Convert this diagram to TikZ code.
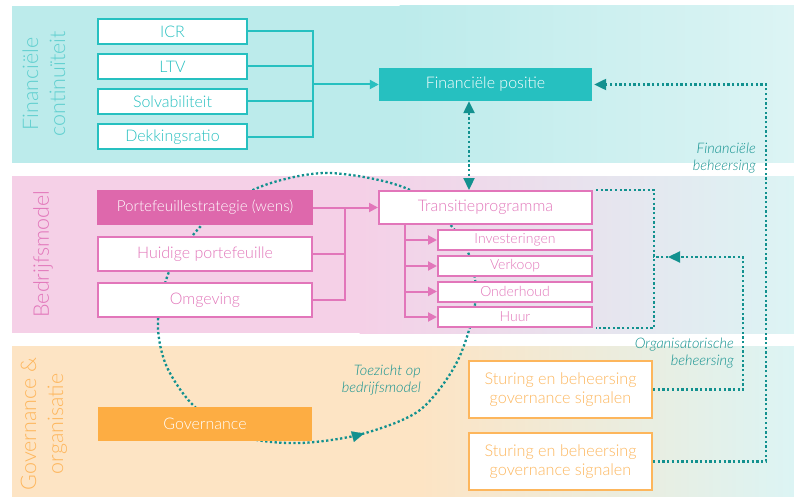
\documentclass[tikz,border=0pt]{standalone}
\usepackage{fontspec}
\setmainfont{Lato}[UprightFont=* Light,ItalicFont=* Light Italic]
\usetikzlibrary{arrows.meta}
\definecolor{finteal}{RGB}{38,192,192}
\definecolor{finband}{RGB}{188,235,235}
\definecolor{finlabel}{RGB}{95,207,207}
\definecolor{bmpink}{RGB}{222,104,172}
\definecolor{bmtext}{RGB}{226,118,186}
\definecolor{bmband}{RGB}{245,208,231}
\definecolor{govorange}{RGB}{253,173,67}
\definecolor{govtext}{RGB}{253,182,92}
\definecolor{govband}{RGB}{253,228,196}
\definecolor{lightend}{RGB}{220,244,244}
\definecolor{ctrlteal}{RGB}{18,145,143}

\begin{document}
\begin{tikzpicture}[x=1pt,y=-1pt,
    txt/.style={font=\fontsize{16}{19}\selectfont},
    finbox/.style={txt,draw=finteal,line width=2pt,fill=white,text=finteal,
      minimum width=149pt,minimum height=25pt,inner sep=0pt},
    bmbox/.style={txt,draw=bmtext,line width=2pt,fill=white,text=bmtext,
      minimum width=214pt,minimum height=34pt,inner sep=0pt},
    subbox/.style={draw=bmtext,line width=2pt,fill=white,text=bmtext,
      font=\fontsize{14}{16}\selectfont,minimum width=154pt,minimum height=20pt,inner sep=0pt},
    govbox/.style={draw=govtext,line width=2pt,fill=white,text=govtext,align=center,
      font=\fontsize{16.2}{19}\selectfont,minimum width=183pt,minimum height=57pt,inner sep=0pt},
    bandlabel/.style={rotate=90,align=center,font=\fontsize{21.5}{27}\selectfont},
    ctrllabel/.style={align=right,text=ctrlteal,inner sep=0pt,
      font=\fontsize{14.5}{16.5}\selectfont\itshape},
    dotline/.style={draw=ctrlteal,line width=2.3pt,dash pattern=on 2.3pt off 2.4pt},
    bigtip/.style={-{Triangle[length=12pt,width=11pt]}},
    smalltip/.style={-{Triangle[length=9pt,width=9pt]}}]
    \useasboundingbox (0,0) rectangle (794,497);
    % bands
    \fill[finband] (12,6) rectangle (400,163);
    \shade[left color=finband,right color=lightend] (399.5,6) rectangle (794,163);
    \fill[bmband] (12,176) rectangle (360,333);
    \shade[left color=bmband,right color=lightend] (359.5,176) rectangle (794,333);
    \fill[govband] (12,346) rectangle (420,497);
    \shade[left color=govband,right color=lightend] (419.5,346) rectangle (794,497);
    \node[bandlabel,text=finlabel] (lblfin) at (44,84) {Financiële\\continuïteit};
    \node[bandlabel,text=bmtext] (lblbm) at (43,254) {Bedrijfsmodel};
    \node[bandlabel,text=govtext] (lblgov) at (44,424) {Governance \&\\organisatie};
    % loop behind the boxes
    \draw[dotline] plot[smooth cycle] coordinates {(300,443) (362,434) (420,410) (458,360)
      (476,295) (462,240) (410,190) (330,173) (265,185) (212,215) (172,265) (158,320)
      (166,365) (195,407) (245,437)};
    \coordinate (looptail) at (352,436.8);
    \coordinate (loophead) at (364,433.4);
    \draw[ctrlteal,line width=0.1pt,bigtip] (looptail) -- (loophead);
    % financiele continuiteit
    \node[finbox] (icr) at (172.5,31.5) {ICR};
    \node[finbox] (ltv) at (172.5,66.5) {LTV};
    \node[finbox] (solv) at (172.5,101.5) {Solvabiliteit};
    \node[finbox] (dekking) at (172.5,137) {Dekkingsratio};
    \node[txt,fill=finteal,text=white,minimum width=213pt,minimum height=33pt,inner sep=0pt]
      (finpos) at (485.5,84.5) {Financiële positie};
    \coordinate (finbus) at (313,84.5);
    \foreach \k in {icr,ltv,solv,dekking}
      \draw[finteal,line width=2pt] (\k.east) -| (finbus);
    \draw[finteal,line width=2pt,smalltip] (finbus) -- (finpos.west);
    % bedrijfsmodel
    \node[bmbox,fill=bmpink,draw=bmpink,text=white,minimum height=33pt,
      font=\fontsize{15.2}{18}\selectfont] (strat) at (205,207.5) {Portefeuillestrategie (wens)};
    \node[bmbox] (huidig) at (205,254) {Huidige portefeuille};
    \node[bmbox] (omgeving) at (205,300) {Omgeving};
    \node[bmbox,minimum width=213pt,minimum height=33pt] (transitie) at (485.5,207.5)
      {Transitieprogramma};
    \node[subbox] (invest) at (515,240) {Investeringen};
    \node[subbox] (verkoop) at (515,266) {Verkoop};
    \node[subbox] (onderhoud) at (515,291.5) {Onderhoud};
    \node[subbox] (huur) at (515,317) {Huur};
    \coordinate (bmbus) at (345,207.5);
    \draw[bmtext,line width=2pt] (huidig.east) -| (bmbus);
    \draw[bmtext,line width=2pt] (omgeving.east) -| (bmbus);
    \draw[bmtext,line width=2pt,smalltip] (strat.east) -- (transitie.west);
    \foreach \k in {invest,verkoop,onderhoud,huur}
      \draw[bmtext,line width=2pt,smalltip] ([xshift=-80.5pt]transitie.south) |- (\k.west);
    % governance
    \node[txt,fill=govorange,text=white,minimum width=214pt,minimum height=34pt,inner sep=0pt]
      (governance) at (205,424) {Governance};
    \node[govbox] (sturing1) at (560.5,389.5) {Sturing en beheersing\\governance signalen};
    \node[govbox] (sturing2) at (560.5,461.5) {Sturing en beheersing\\governance signalen};
    % beheersing
    \draw[dotline,{Triangle[length=12pt,width=11pt]}-{Triangle[length=12pt,width=11pt]}]
      ([xshift=-16.5pt]finpos.south) -- ([xshift=-16.5pt]transitie.north);
    \draw[dotline] ([xshift=3pt]transitie.north east) -- ++(58,0) |- ([xshift=3pt]huur.south east);
    \coordinate (orgtip) at (668,257);
    \coordinate (orgend) at (653,257);
    \draw[dotline,bigtip] (sturing1.east) -| (743,257) -- (orgtip);
    \draw[dotline] (orgtip) -- (orgend);
    \draw[dotline,bigtip] (sturing2.east) -| (766,84.5) -- ([xshift=2pt]finpos.east);
    \node[ctrllabel,anchor=east] (lblfinctrl) at (756,158) {Financiële\\beheersing};
    \node[ctrllabel,anchor=east] (lblorgctrl) at (734,353) {Organisatorische\\beheersing};
    \node[ctrllabel,anchor=east] (lbltoezicht) at (421,380) {Toezicht op\\bedrijfsmodel};
\end{tikzpicture}
\end{document}
